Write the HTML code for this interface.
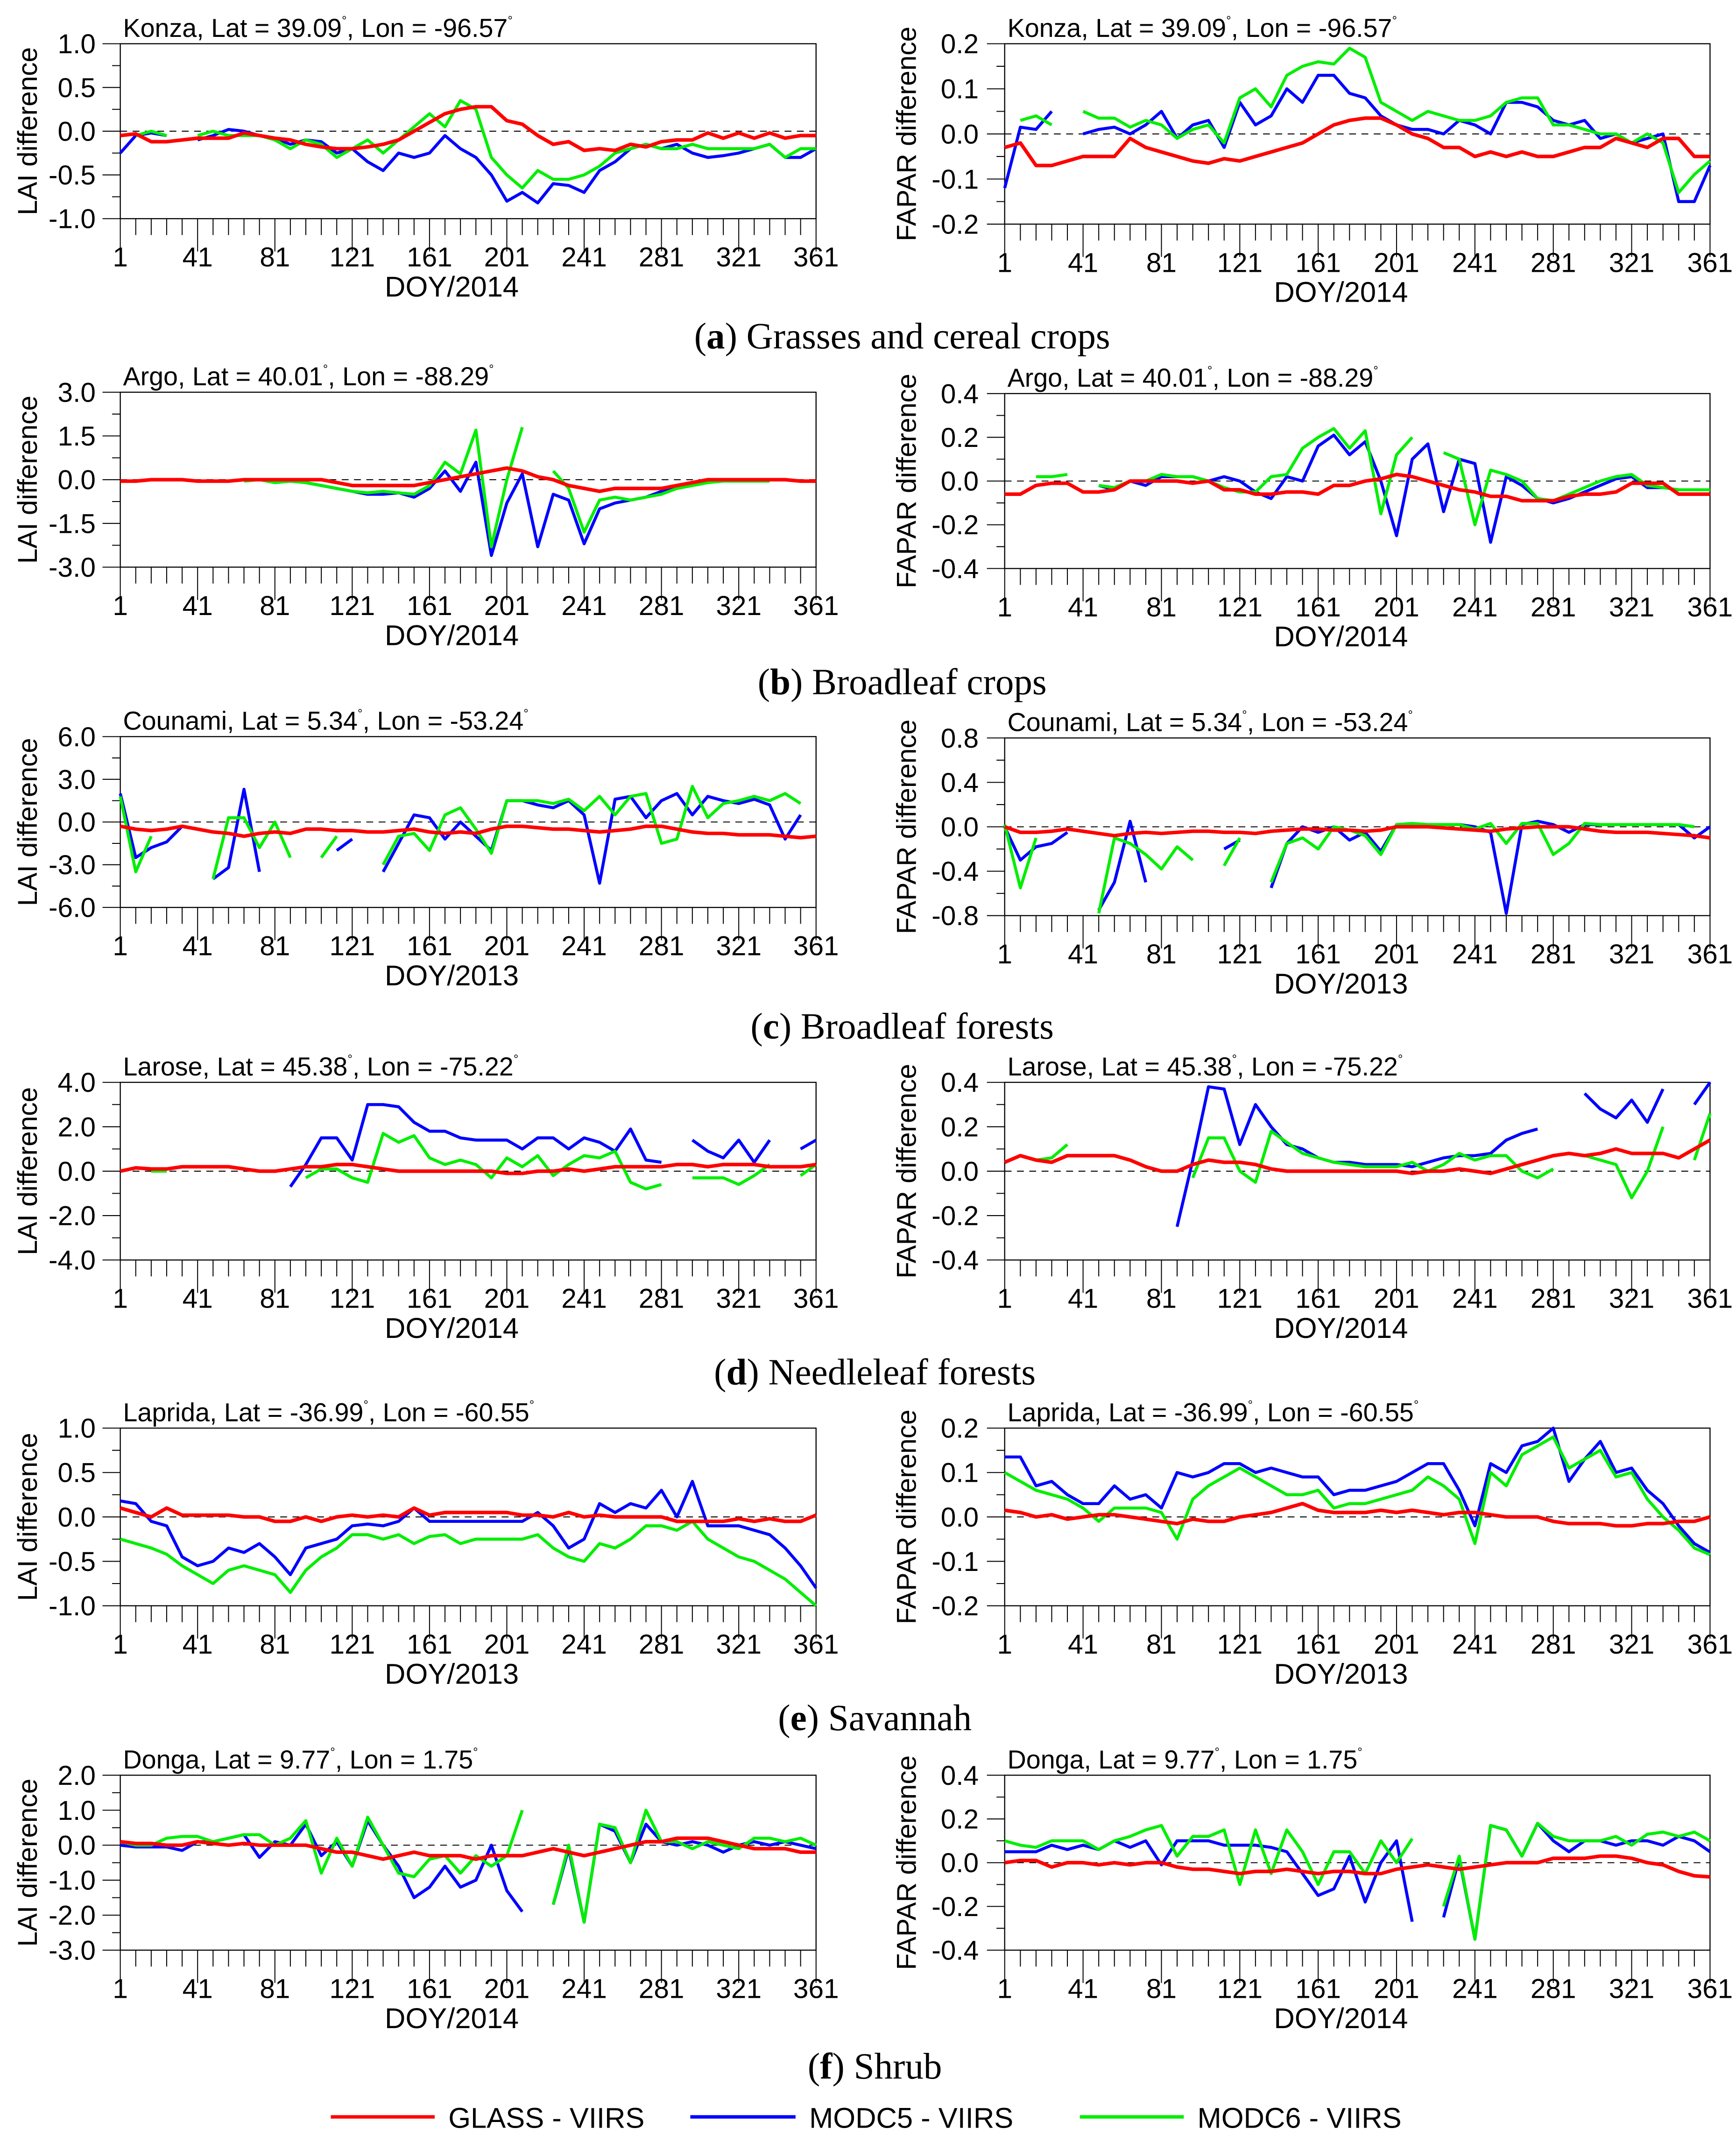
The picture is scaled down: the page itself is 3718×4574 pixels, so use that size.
<!DOCTYPE html>
<html><head><meta charset="utf-8"><style>
html,body{margin:0;padding:0;background:#fff}
svg{display:block}
text{font-family:"Liberation Sans Narrow","Liberation Sans",sans-serif;fill:#000}
.cap{font-family:"Liberation Serif",serif;font-size:27px}
.ax{font-family:"Liberation Sans",sans-serif;font-size:20px}
</style></head><body>
<svg id="chart" width="3718" height="4574" viewBox="0 0 1270 1563" preserveAspectRatio="none" xmlns="http://www.w3.org/2000/svg">
<g>
<text class="cap" x="660" y="255" text-anchor="middle">(<tspan font-weight="bold">a</tspan>) Grasses and cereal crops</text>
<text class="cap" x="660" y="508" text-anchor="middle">(<tspan font-weight="bold">b</tspan>) Broadleaf crops</text>
<text class="cap" x="660" y="760" text-anchor="middle">(<tspan font-weight="bold">c</tspan>) Broadleaf forests</text>
<text class="cap" x="640" y="1013" text-anchor="middle">(<tspan font-weight="bold">d</tspan>) Needleleaf forests</text>
<text class="cap" x="640" y="1266" text-anchor="middle">(<tspan font-weight="bold">e</tspan>) Savannah</text>
<text class="cap" x="640" y="1521" text-anchor="middle">(<tspan font-weight="bold">f</tspan>) Shrub</text>
</g>
<g>
<g><line x1="242" y1="1549" x2="318" y2="1549" stroke="#ff0000" stroke-width="2.5"/><text x="328" y="1557" font-size="21">GLASS - VIIRS</text></g>
<g><line x1="505" y1="1549" x2="582" y2="1549" stroke="#0000ff" stroke-width="2.5"/><text x="592" y="1557" font-size="21">MODC5 - VIIRS</text></g>
<g><line x1="790" y1="1549" x2="866" y2="1549" stroke="#00ee00" stroke-width="2.5"/><text x="876" y="1557" font-size="21">MODC6 - VIIRS</text></g>
</g>
</svg>
<script>
// ---- data (DOY 1..361 every 8 days, 46 values; null = gap) ----
const doyTicks = [1,41,81,121,161,201,241,281,321,361];
const aLaiGlass = [-0.05,-0.03,-0.12,-0.12,-0.1,-0.08,-0.08,-0.08,-0.02,-0.05,-0.08,-0.1,-0.15,-0.18,-0.2,-0.2,-0.18,-0.15,-0.1,0.0,0.1,0.2,0.25,0.28,0.28,0.12,0.08,-0.05,-0.15,-0.12,-0.22,-0.2,-0.22,-0.15,-0.18,-0.12,-0.1,-0.1,-0.02,-0.08,-0.02,-0.08,-0.02,-0.08,-0.05,-0.05];
const aLaiM5 = [-0.25,-0.05,-0.02,-0.05,null,-0.1,-0.05,0.02,0.0,-0.05,-0.08,-0.15,-0.1,-0.12,-0.25,-0.2,-0.35,-0.45,-0.25,-0.3,-0.25,-0.05,-0.2,-0.3,-0.5,-0.8,-0.7,-0.82,-0.6,-0.62,-0.7,-0.45,-0.35,-0.2,-0.15,-0.2,-0.15,-0.25,-0.3,-0.28,-0.25,-0.2,-0.15,-0.3,-0.3,-0.2];
const aLaiM6 = [null,-0.05,0.0,-0.05,null,-0.05,0.0,-0.05,-0.05,-0.05,-0.1,-0.2,-0.1,-0.15,-0.3,-0.2,-0.1,-0.25,-0.1,0.05,0.2,0.05,0.35,0.25,-0.3,-0.5,-0.65,-0.45,-0.55,-0.55,-0.5,-0.4,-0.25,-0.2,-0.15,-0.2,-0.2,-0.15,-0.2,-0.2,-0.2,-0.2,-0.15,-0.3,-0.2,-0.2];
const aFaGlass = [-0.03,-0.02,-0.07,-0.07,-0.06,-0.05,-0.05,-0.05,-0.01,-0.03,-0.04,-0.05,-0.06,-0.065,-0.055,-0.06,-0.05,-0.04,-0.03,-0.02,0.0,0.02,0.03,0.035,0.035,0.02,0.0,-0.01,-0.03,-0.03,-0.05,-0.04,-0.05,-0.04,-0.05,-0.05,-0.04,-0.03,-0.03,-0.01,-0.02,-0.03,-0.01,-0.01,-0.05,-0.05];
const aFaM5 = [-0.12,0.015,0.01,0.05,null,0.0,0.01,0.015,0.0,0.02,0.05,-0.01,0.02,0.03,-0.03,0.07,0.02,0.04,0.1,0.07,0.13,0.13,0.09,0.08,0.04,0.02,0.01,0.01,0.0,0.03,0.02,0.0,0.07,0.07,0.06,0.03,0.02,0.03,-0.01,0.0,-0.02,-0.01,0.0,-0.15,-0.15,-0.07];
const aFaM6 = [null,0.03,0.04,0.02,null,0.05,0.035,0.035,0.015,0.03,0.02,-0.01,0.01,0.02,-0.02,0.08,0.1,0.06,0.13,0.15,0.16,0.155,0.19,0.17,0.07,0.05,0.03,0.05,0.04,0.03,0.03,0.04,0.07,0.08,0.08,0.02,0.02,0.01,0.0,0.0,-0.02,0.0,-0.02,-0.13,-0.09,-0.06];
const bLaiGlass = [-0.05,-0.05,0,0,0,-0.05,-0.05,-0.05,0,0,0,0,0,0,-0.1,-0.2,-0.2,-0.2,-0.2,-0.2,-0.1,0,0.1,0.2,0.3,0.4,0.3,0.1,0,-0.2,-0.3,-0.4,-0.3,-0.3,-0.3,-0.3,-0.2,-0.1,0,0,0,0,0,0,-0.05,-0.05];
const bLaiM5 = [null,null,null,null,null,null,null,null,null,null,-0.1,-0.05,-0.1,-0.2,-0.3,-0.4,-0.5,-0.5,-0.45,-0.6,-0.3,0.3,-0.4,0.6,-2.6,-0.8,0.2,-2.3,-0.5,-0.7,-2.2,-1.0,-0.8,-0.7,-0.6,-0.4,-0.2,-0.1,-0.05];
const bLaiM6 = [null,null,null,null,null,null,null,null,-0.05,0,-0.1,-0.05,-0.1,-0.2,-0.3,-0.4,-0.45,-0.4,-0.45,-0.5,-0.2,0.6,0.2,1.7,-2.3,0.0,1.8,null,0.3,-0.3,-1.8,-0.7,-0.6,-0.7,-0.6,-0.5,-0.3,-0.2,-0.1,-0.05,-0.05,-0.05,-0.05];
const bFaGlass = [-0.06,-0.06,-0.02,-0.01,-0.01,-0.05,-0.05,-0.04,0,0,0,0,-0.01,0,-0.04,-0.04,-0.06,-0.06,-0.05,-0.05,-0.06,-0.02,-0.02,0.0,0.01,0.03,0.02,0.0,-0.02,-0.04,-0.05,-0.07,-0.07,-0.09,-0.09,-0.09,-0.07,-0.06,-0.06,-0.05,-0.01,-0.01,-0.01,-0.06,-0.06,-0.06];
const bFaM5 = [null,null,null,null,null,null,-0.02,-0.04,0,-0.02,0.02,0.02,0.02,0.0,0.02,0.0,-0.05,-0.08,0.02,0.0,0.16,0.21,0.12,0.18,0.0,-0.25,0.1,0.17,-0.14,0.1,0.08,-0.28,0.02,-0.02,-0.08,-0.1,-0.08,-0.05,-0.02,0.01,0.02,-0.03,-0.03];
const bFaM6 = [null,null,0.02,0.02,0.03,null,-0.02,-0.03,0.0,0.0,0.03,0.02,0.02,0.0,-0.03,-0.05,-0.05,0.02,0.03,0.15,0.2,0.24,0.15,0.23,-0.15,0.12,0.2,null,0.13,0.1,-0.2,0.05,0.03,0.0,-0.08,-0.09,-0.06,-0.03,0.0,0.02,0.03,-0.02,-0.03,-0.04,-0.04,-0.04];
const cLaiGlass = [-0.3,-0.5,-0.6,-0.5,-0.3,-0.5,-0.7,-0.8,-1.0,-0.8,-0.7,-0.8,-0.5,-0.5,-0.6,-0.6,-0.7,-0.7,-0.6,-0.5,-0.7,-0.8,-0.7,-0.8,-0.5,-0.3,-0.3,-0.4,-0.5,-0.5,-0.6,-0.7,-0.6,-0.5,-0.3,-0.3,-0.5,-0.7,-0.8,-0.8,-0.9,-0.9,-0.9,-1.0,-1.1,-1.0];
const cLaiM5 = [2,-2.5,-1.8,-1.4,-0.3,null,-4.0,-3.2,2.3,-3.5,null,null,null,null,-2.0,-1.2,null,-3.5,-1.5,0.5,0.3,-1.2,0.0,-1.0,-2.0,1.5,1.5,1.2,1.0,1.5,0.5,-4.3,1.6,1.8,0.3,1.5,2.0,0.5,1.8,1.5,1.3,1.6,1.2,-1.2,0.5,null];
const cLaiM6 = [1.8,-3.5,-1.0,null,null,null,-4.0,0.3,0.3,-1.8,0.0,-2.5,null,-2.5,-1.0,null,null,-3.0,-1.0,-0.8,-2.0,0.5,1.0,-0.5,-2.2,1.5,1.5,1.5,1.3,1.6,0.8,1.8,0.5,1.8,2.0,-1.5,-1.2,2.5,0.3,1.3,1.5,1.8,1.5,2.0,1.3];
const cFaGlass = [0,-0.05,-0.05,-0.04,-0.02,-0.04,-0.06,-0.08,-0.06,-0.05,-0.06,-0.05,-0.04,-0.04,-0.05,-0.05,-0.06,-0.04,-0.03,-0.02,-0.02,-0.03,-0.03,-0.04,-0.03,0,0,0,-0.01,-0.02,-0.03,-0.04,-0.02,-0.01,0,0,0,-0.02,-0.04,-0.05,-0.05,-0.05,-0.06,-0.07,-0.08,-0.1];
const cFaM5 = [0,-0.3,-0.18,-0.15,-0.05,null,-0.75,-0.5,0.05,-0.5,null,null,null,null,-0.2,-0.12,null,-0.55,-0.15,0.0,-0.05,0.0,-0.12,-0.05,-0.22,0.02,0.02,0.02,0.02,0.02,0.0,-0.05,-0.78,0.02,0.05,0.02,-0.05,0.02,0.02,0.02,0.02,0.02,0.02,0.02,-0.1,0.0];
const cFaM6 = [0.02,-0.55,-0.1,null,null,null,-0.78,-0.1,-0.15,-0.25,-0.38,-0.18,-0.3,null,-0.35,-0.1,null,-0.5,-0.15,-0.1,-0.2,0.0,-0.03,-0.08,-0.25,0.02,0.03,0.02,0.02,0.02,-0.02,0.03,-0.15,0.03,0.03,-0.25,-0.15,0.03,0.02,0.02,0.02,0.02,0.02,0.02,0.0];
const dLaiGlass = [0,0.15,0.1,0.1,0.2,0.2,0.2,0.2,0.1,0.0,0.0,0.1,0.2,0.2,0.3,0.3,0.2,0.1,0.0,0.0,0.0,0.0,0.0,0.0,0.0,-0.1,-0.1,0.0,0.0,0.1,0.0,0.1,0.2,0.2,0.2,0.2,0.3,0.3,0.2,0.3,0.3,0.3,0.2,0.2,0.2,0.3];
const dLaiM5 = [null,null,null,null,null,null,null,null,null,null,null,-0.7,0.3,1.5,1.5,0.5,3.0,3.0,2.9,2.2,1.8,1.8,1.5,1.4,1.4,1.4,1.0,1.5,1.5,1.0,1.5,1.3,0.9,1.9,0.5,0.4,null,1.4,0.9,0.6,1.4,0.4,1.4,null,1.0,1.4];
const dLaiM6 = [null,null,0.0,0.0,null,null,null,null,null,null,null,null,-0.3,0.1,0.1,-0.3,-0.5,1.7,1.3,1.6,0.6,0.3,0.5,0.3,-0.3,0.6,0.2,0.7,-0.2,0.3,0.7,0.6,0.9,-0.5,-0.8,-0.6,null,-0.3,-0.3,-0.3,-0.6,-0.2,0.3,null,-0.2,0.3];
const dFaGlass = [0.04,0.07,0.05,0.04,0.07,0.07,0.07,0.07,0.05,0.02,0.0,0.0,0.03,0.05,0.04,0.04,0.03,0.01,0.0,0.0,0.0,0.0,0.0,0.0,0.0,0.0,-0.01,0.0,0.0,0.01,0.0,-0.01,0.01,0.03,0.05,0.07,0.08,0.07,0.08,0.1,0.08,0.08,0.08,0.06,0.1,0.14];
const dFaM5 = [null,null,null,null,null,null,null,null,null,null,null,-0.25,0.05,0.38,0.37,0.12,0.3,0.2,0.12,0.1,0.06,0.04,0.04,0.03,0.03,0.03,0.02,0.04,0.06,0.07,0.07,0.08,0.14,0.17,0.19,null,null,0.35,0.28,0.24,0.32,0.22,0.37,null,0.3,0.4];
const dFaM6 = [null,null,0.05,0.06,0.12,null,null,null,null,null,null,null,-0.03,0.15,0.15,0.0,-0.05,0.18,0.13,0.08,0.06,0.04,0.03,0.02,0.02,0.02,0.04,0.0,0.03,0.08,0.05,0.07,0.07,0.0,-0.03,0.01,null,0.07,0.05,0.03,-0.12,0.0,0.2,null,0.05,0.26];
const eLaiGlass = [0.1,0.05,0.0,0.1,0.02,0.02,0.02,0.02,0.0,0.0,-0.05,-0.05,0.0,-0.05,0.0,0.02,0.0,0.02,0.0,0.1,0.02,0.05,0.05,0.05,0.05,0.05,0.02,0.02,0.0,0.05,0.0,0.02,0.0,0.0,0.0,0.0,-0.05,-0.05,-0.05,-0.05,-0.02,-0.05,-0.02,-0.05,-0.05,0.02];
const eLaiM5 = [0.18,0.15,-0.05,-0.1,-0.45,-0.55,-0.5,-0.35,-0.4,-0.3,-0.45,-0.65,-0.35,-0.3,-0.25,-0.1,-0.08,-0.1,-0.05,0.1,-0.05,-0.05,-0.05,-0.05,-0.05,-0.05,-0.05,0.05,-0.1,-0.35,-0.25,0.15,0.05,0.15,0.1,0.3,0.0,0.4,-0.1,-0.1,-0.1,-0.15,-0.2,-0.35,-0.55,-0.8];
const eLaiM6 = [-0.25,-0.3,-0.35,-0.42,-0.55,-0.65,-0.75,-0.6,-0.55,-0.6,-0.65,-0.85,-0.6,-0.45,-0.35,-0.2,-0.2,-0.25,-0.2,-0.3,-0.22,-0.2,-0.3,-0.25,-0.25,-0.25,-0.25,-0.2,-0.35,-0.45,-0.5,-0.3,-0.35,-0.25,-0.1,-0.1,-0.15,-0.05,-0.25,-0.35,-0.45,-0.5,-0.6,-0.7,-0.85,-1.0];
const eFaGlass = [0.015,0.01,0.0,0.005,-0.005,0.0,0.005,0.005,0.0,-0.005,-0.01,-0.015,-0.005,-0.01,-0.01,0.0,0.005,0.01,0.02,0.03,0.015,0.01,0.01,0.01,0.015,0.01,0.015,0.01,0.005,0.01,0.01,0.005,0.0,0.0,0.0,-0.01,-0.015,-0.015,-0.015,-0.02,-0.02,-0.015,-0.015,-0.01,-0.01,0.0];
const eFaM5 = [0.135,0.135,0.07,0.08,0.05,0.03,0.03,0.07,0.04,0.05,0.02,0.1,0.09,0.1,0.12,0.12,0.1,0.11,0.1,0.09,0.09,0.05,0.06,0.06,0.07,0.08,0.1,0.12,0.12,0.06,-0.02,0.12,0.1,0.16,0.17,0.2,0.08,0.13,0.17,0.1,0.11,0.06,0.03,-0.02,-0.06,-0.08];
const eFaM6 = [0.1,0.08,0.06,0.05,0.04,0.02,-0.01,0.02,0.02,0.02,0.01,-0.05,0.04,0.07,0.09,0.11,0.09,0.07,0.05,0.05,0.06,0.02,0.03,0.03,0.04,0.05,0.06,0.09,0.07,0.04,-0.06,0.1,0.07,0.14,0.16,0.18,0.11,0.13,0.15,0.09,0.1,0.04,0.0,-0.03,-0.07,-0.085];
const fLaiGlass = [0.1,0.05,0.05,0.0,0.0,0.1,0.05,0.0,0.05,0.0,0.0,0.0,0.0,-0.1,-0.2,-0.2,-0.3,-0.4,-0.3,-0.2,-0.3,-0.3,-0.3,-0.4,-0.3,-0.3,-0.3,-0.2,-0.1,-0.2,-0.3,-0.2,-0.1,0.0,0.1,0.1,0.2,0.2,0.2,0.1,0.0,-0.1,-0.1,-0.1,-0.2,-0.2];
const fLaiM5 = [0.0,-0.05,-0.05,-0.05,-0.15,0.1,0.1,0.2,0.3,-0.35,0.1,0.0,0.6,-0.3,0.1,-0.6,0.7,0.0,-0.6,-1.5,-1.2,-0.6,-1.2,-1.0,0.0,-1.3,-1.9,null,-1.7,-0.1,-2.2,0.6,0.4,-0.5,0.6,0.1,0.0,0.1,0.0,-0.2,0.0,0.1,0.0,0.1,0.0,-0.1];
const fLaiM6 = [0.1,0.0,0.0,0.2,0.25,0.25,0.1,0.2,0.3,0.3,0.0,0.2,0.7,-0.8,0.2,-0.6,0.8,0.0,-0.8,-0.9,-0.4,-0.3,-0.8,-0.3,-0.6,-0.3,1.0,null,-1.7,0.0,-2.2,0.6,0.5,-0.5,1.0,0.1,0.1,-0.1,0.1,0.0,-0.1,0.2,0.2,0.1,0.2,0.0];
const fFaGlass = [0.0,0.01,0.01,-0.02,0.0,0.0,-0.01,0.0,-0.01,0.0,0.0,-0.02,-0.03,-0.03,-0.04,-0.05,-0.04,-0.04,-0.03,-0.04,-0.05,-0.04,-0.04,-0.05,-0.05,-0.03,-0.02,-0.01,-0.02,-0.03,-0.02,-0.01,0.0,0.0,0.0,0.02,0.02,0.02,0.03,0.03,0.02,0.0,-0.01,-0.04,-0.06,-0.065];
const fFaM5 = [0.05,0.05,0.05,0.08,0.06,0.08,0.06,0.1,0.07,0.1,-0.01,0.1,0.1,0.1,0.08,0.08,0.08,0.07,0.05,-0.05,-0.15,-0.12,0.03,-0.18,0.0,0.1,-0.27,null,-0.25,0.02,-0.35,0.17,0.15,0.03,0.18,0.1,0.05,0.1,0.1,0.08,0.1,0.1,0.08,0.12,0.1,0.05];
const fFaM6 = [0.1,0.08,0.07,0.1,0.1,0.1,0.06,0.1,0.12,0.15,0.17,0.03,0.12,0.12,0.15,-0.1,0.15,-0.05,0.15,0.05,-0.1,0.05,0.05,-0.05,0.1,0.0,0.11,null,-0.2,0.03,-0.35,0.17,0.15,0.03,0.18,0.12,0.1,0.1,0.1,0.12,0.08,0.13,0.14,0.12,0.14,0.1];

const rowInfo = [
 {id:'a',site:'Konza',lat:'39.09',lon:'-96.57',yr:'2014',lai:[aLaiGlass,aLaiM5,aLaiM6],fa:[aFaGlass,aFaM5,aFaM6],ly:[-1,1,0.5],ry:[-0.2,0.2,0.1]},
 {id:'b',site:'Argo',lat:'40.01',lon:'-88.29',yr:'2014',lai:[bLaiGlass,bLaiM5,bLaiM6],fa:[bFaGlass,bFaM5,bFaM6],ly:[-3,3,1.5],ry:[-0.4,0.4,0.2]},
 {id:'c',site:'Counami',lat:'5.34',lon:'-53.24',yr:'2013',lai:[cLaiGlass,cLaiM5,cLaiM6],fa:[cFaGlass,cFaM5,cFaM6],ly:[-6,6,3],ry:[-0.8,0.8,0.4]},
 {id:'d',site:'Larose',lat:'45.38',lon:'-75.22',yr:'2014',lai:[dLaiGlass,dLaiM5,dLaiM6],fa:[dFaGlass,dFaM5,dFaM6],ly:[-4,4,2],ry:[-0.4,0.4,0.2]},
 {id:'e',site:'Laprida',lat:'-36.99',lon:'-60.55',yr:'2013',lai:[eLaiGlass,eLaiM5,eLaiM6],fa:[eFaGlass,eFaM5,eFaM6],ly:[-1,1,0.5],ry:[-0.2,0.2,0.1]},
 {id:'f',site:'Donga',lat:'9.77',lon:'1.75',yr:'2014',lai:[fLaiGlass,fLaiM5,fLaiM6],fa:[fFaGlass,fFaM5,fFaM6],ly:[-3,2,1],ry:[-0.4,0.4,0.2]}
];
// layout (viewBox units)
const geo = [[32,160,32,164],[287,415,288,416],[539,664,540,670],[792,922,792,922],[1045,1175,1045,1175],[1299,1427,1299,1427]];
const colors = ['#ff0000','#0000ff','#00ee00'];
const snames = ['glass','modc5','modc6'];
const NS='http://www.w3.org/2000/svg';
const svg=document.getElementById('chart');
function mk(tag,attrs,parent){const e=document.createElementNS(NS,tag);for(const k in attrs)e.setAttribute(k,attrs[k]);parent.appendChild(e);return e;}
function fmt(v,dec){return v.toFixed(dec);}

function panel(row,ri,isRight){
  const g=mk('g',{},svg);
  
  
  const x0=isRight?735:88, x1=isRight?1251:597;
  const top=isRight?geo[ri][2]:geo[ri][0], bot=isRight?geo[ri][3]:geo[ri][1];
  const yr=isRight?row.ry:row.ly;
  const dec=1;
  const X=d=>x0+(d-1)/360*(x1-x0);
  const Y=v=>bot-(v-yr[0])/(yr[1]-yr[0])*(bot-top);
  // frame
  const fr=mk('rect',{x:x0,y:top,width:x1-x0,height:bot-top,fill:'none',stroke:'#000','stroke-width':0.8},g);
  
  
  // zero line
  const z=mk('line',{x1:x0,x2:x1,y1:Y(0),y2:Y(0),stroke:'#000','stroke-width':0.7,'stroke-dasharray':'5,4'},g);
  
  
  // y ticks
  const yl=isRight?716:70;
  for(let v=yr[0];v<=yr[1]+1e-9;v+=yr[2]/2){
    const major=Math.abs(Math.round((v-yr[0])/yr[2])-(v-yr[0])/yr[2])<1e-6;
    mk('line',{x1:x0-(major?13:6),x2:x0,y1:Y(v),y2:Y(v),stroke:'#000','stroke-width':0.7},g);
    if(major){const t=mk('text',{x:yl,y:Y(v)+7,'text-anchor':'end','font-size':20},g);t.textContent=fmt(Math.abs(v)<1e-9?0:v,dec);
      
      }
  }
  // x ticks
  for(let d=1;d<=361;d+=8){
    const major=doyTicks.includes(d);
    mk('line',{x1:X(d),x2:X(d),y1:bot,y2:bot+(major?24:12),stroke:'#000','stroke-width':0.7},g);
  }
  doyTicks.forEach(d=>{const t=mk('text',{x:X(d),y:bot+35,'text-anchor':'middle','font-size':20},g);t.textContent=d;
    
    });
  const xt=mk('text',{x:(x0+x1)/2-12,y:bot+57,'text-anchor':'middle','font-size':21},g);xt.textContent='DOY/'+row.yr;
  
  
  const yt=mk('text',{class:'ax',transform:`translate(${isRight?670:27},${(top+bot)/2}) rotate(-90)`,'text-anchor':'middle'},g);
  yt.textContent=isRight?'FAPAR difference':'LAI difference';
  
  
  const ti=mk('text',{x:x0+2,y:top-5,'font-size':19},g);
  ti.innerHTML=`${row.site}, Lat = ${row.lat}<tspan font-size="9" dy="-9">°</tspan><tspan dy="9">, Lon = ${row.lon}</tspan><tspan font-size="9" dy="-9">°</tspan>`;
  
  
  // series (draw blue, green, then red on top)
  const series=isRight?row.fa:row.lai;
  [1,2,0].forEach(si=>{
    const arr=series[si];
    let dstr='',pen=false;
    for(let k=0;k<46;k++){
      const v=arr[k];
      if(v===null||v===undefined){pen=false;continue;}
      dstr+=(pen?'L':'M')+X(1+8*k).toFixed(2)+','+Y(v).toFixed(2);
      pen=true;
    }
    const p=mk('path',{d:dstr,fill:'none',stroke:colors[si],'stroke-width':si===0?2.6:2.2,'stroke-linejoin':'round'},g);
    
    
  });
}
rowInfo.forEach((r,i)=>{panel(r,i,false);panel(r,i,true);});
</script>
</body></html>
